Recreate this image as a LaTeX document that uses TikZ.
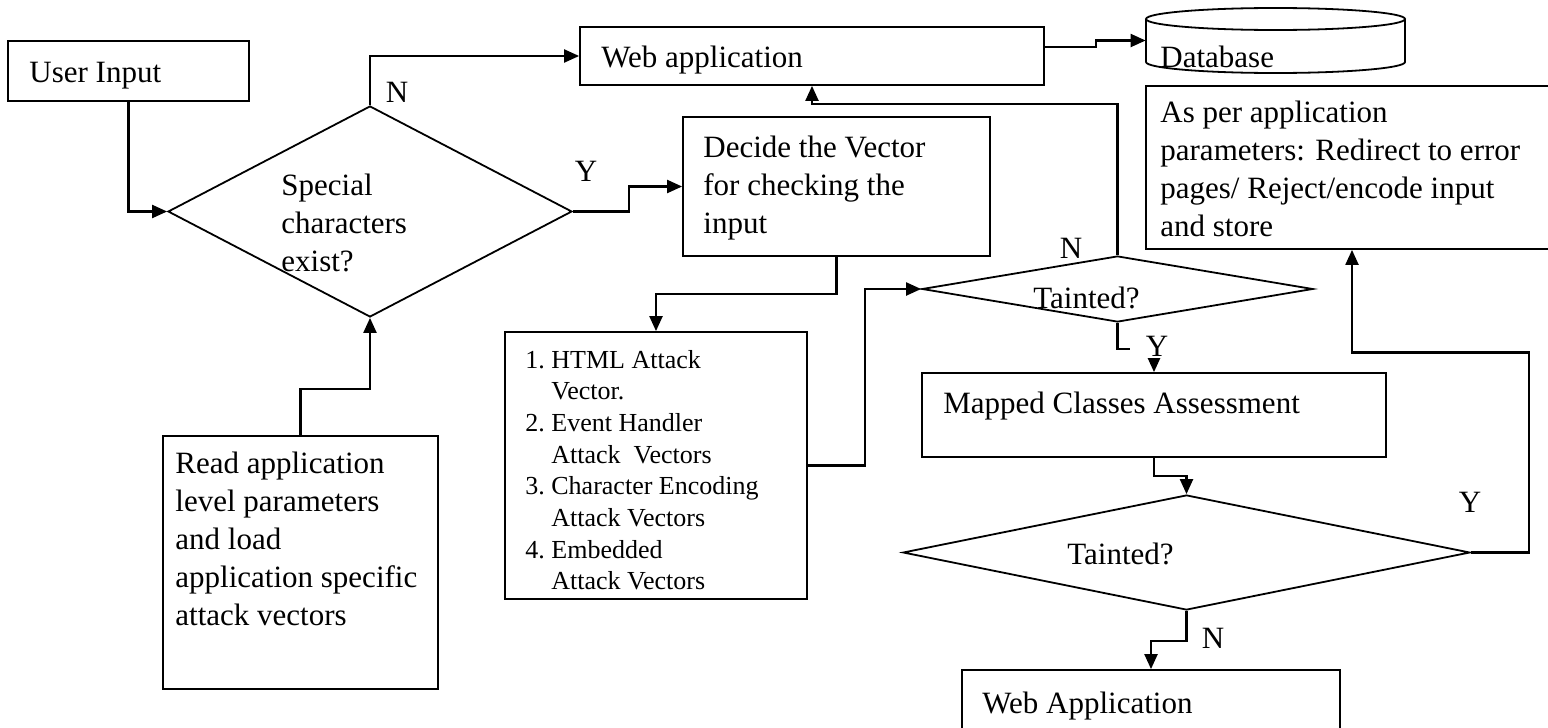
\documentclass[tikz,border=0pt]{standalone}
\usepackage{fontspec}
\setmainfont{Liberation Serif}
\usetikzlibrary{arrows.meta,shapes.geometric}

\newcommand\mainsize{\fontsize{15.5}{19}\selectfont}
\newcommand\listsize{\fontsize{13}{15.85}\selectfont}
\newcommand\txtblock[2]{\parbox[t]{#1}{\mainsize #2}}
\newcommand\itemno[1]{\makebox[13pt][l]{#1}}
\newcommand\itemgap{\hspace*{13pt}}

\tikzset{
  box/.style={draw, line width=0.9pt, rectangle, inner sep=0pt},
  decision/.style={draw, line width=0.9pt, diamond, inner sep=0pt, aspect=1},
  flow/.style={line width=1.1pt, -{Triangle[length=7.5pt,width=6.5pt]}},
  txt/.style={inner sep=0pt, anchor=base west, font=\mainsize},
  lbl/.style={inner sep=0pt, font=\mainsize},
}

\begin{document}
\begin{tikzpicture}[x=0.5pt, y=-0.5pt]
\useasboundingbox (0,0) rectangle (1548,728);

% ---- boxes and decisions ----
\node[box, minimum width=120.5pt, minimum height=30pt] (user) at (128.5,71) {};
\node[txt] (usertxt) at (29,82) {User Input};

\node[decision, minimum width=202pt, minimum height=105.5pt] (d1) at (370,211.5) {};
\node[txt] (d1txt) at (281,195) {\txtblock{100pt}{Special\\characters\\exist?}};

\node[box, minimum width=232pt, minimum height=29pt] (webapp) at (812,56) {};
\node[txt] (webapptxt) at (601,68) {Web application};

\node[box, minimum width=153.5pt, minimum height=69.5pt] (decide) at (836.5,186.5) {};
\node[txt] (decidetxt) at (703,157) {\txtblock{140pt}{Decide the Vector\\for checking the\\input}};

\node[box, minimum width=151pt, minimum height=133.5pt] (list) at (656,465.5) {};
\node[txt] (listtxt) at (525,368) {\parbox[t]{150pt}{\listsize
  \itemno{1.}HTML Attack\\
  \itemgap Vector.\\
  \itemno{2.}Event Handler\\
  \itemgap Attack\ \ Vectors\\
  \itemno{3.}Character Encoding\\
  \itemgap Attack Vectors\\
  \itemno{4.}Embedded\\
  \itemgap Attack Vectors}};

\node[box, minimum width=137.5pt, minimum height=126.5pt] (read) at (300.5,562.5) {};
\node[txt] (readtxt) at (175,473) {\txtblock{130pt}{Read application\\level parameters\\and load\\application specific\\attack vectors}};

\node[decision, minimum width=195.5pt, minimum height=33pt] (t1) at (1117.5,289) {};
\node[txt] (t1txt) at (1033,308) {Tainted?};

\node[box, minimum width=232pt, minimum height=42pt] (mapped) at (1154,415) {};
\node[txt] (mappedtxt) at (943,413) {Mapped Classes Assessment};

\node[decision, minimum width=283.5pt, minimum height=57.5pt] (t2) at (1186.5,552.5) {};
\node[txt] (t2txt) at (1067,564) {Tainted?};

\node[box, minimum width=189pt, minimum height=45pt] (web2) at (1151,715) {};
\node[txt] (web2txt) at (982,713) {Web Application};

\node[box, minimum width=206pt, minimum height=81.5pt] (asper) at (1352,167.5) {};
\node[txt] (aspertxt) at (1160,122) {\txtblock{200pt}{As per application\\parameters: Redirect to error\\pages/ Reject/encode input\\and store}};

% ---- database cylinder ----
\draw[line width=0.9pt] (1275.5,19) ellipse [x radius=64.75pt, y radius=5.5pt];
\draw[line width=0.9pt] (1146,19) -- (1146,62)
  arc[start angle=180, end angle=360, x radius=64.75pt, y radius=5.5pt] -- (1405,19);
\node[inner sep=0pt, minimum width=129.5pt, minimum height=32.5pt] (db) at (1275.5,40.5) {};
\node[txt] (dbtxt) at (1160,67) {Database};

% ---- connectors ----
\draw[flow] (user.south) |- (d1.west);
\draw[flow] (d1.north) |- (webapp.west);
\draw[flow] (d1.east) -- ++(56,0) |- (decide.west);
\draw[flow] (decide.south) -- ++(0,37) -| (list.north);
\draw[flow] (list.east) -- ++(57,0) |- (t1.west);
\draw[flow] (t1.north) -- ++(0,-151) -| (webapp.south);
\draw[flow] ([yshift=4.5pt]webapp.east) -- ++(51,0) |- (db.west);
\draw[flow] (t1.south) -- ++(0,26) -| (mapped.north);
\draw[flow] (mapped.south) -- ++(0,18) -| (t2.north);
\draw[flow] (t2.east) -- ++(58,0) -- ++(0,-200) -| (asper.south);
\draw[flow] (t2.south) -- ++(0,30) -| (web2.north);
\draw[flow] (read.north) -- ++(0,-46) -| (d1.south);

% ---- branch labels ----
\node[lbl] (n1) at (397,92) {N};
\node[lbl] (y1) at (586,171) {Y};
\node[lbl] (n2) at (1071,248) {N};
\node[lbl, fill=white, inner xsep=8pt, inner ysep=1pt] (y2) at (1157,346) {Y};
\node[lbl] (y3) at (1470,502) {Y};
\node[lbl] (n3) at (1213,638) {N};
\end{tikzpicture}
\end{document}
